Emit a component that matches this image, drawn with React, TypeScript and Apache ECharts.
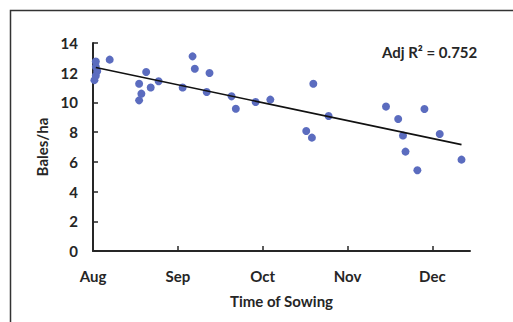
import React, { useEffect, useRef } from "react";
import * as echarts from "echarts";

// Days since 1 August
const sowingDays = [0.5, 1, 1.5, 1, 1, 5.9, 16.3, 17.1, 16.3, 18.8, 20.4, 23.2, 31.7, 35.2, 36.0, 41.2, 40.2, 49.0, 50.5, 57.5, 62.7, 75.4, 77.4, 77.9, 83.3, 103.6, 107.9, 109.6, 110.5, 114.7, 117.2, 122.6, 130.3];
const balesPerHa = [11.5, 11.8, 12.1, 12.4, 12.75, 12.88, 11.26, 10.59, 10.14, 12.05, 11.0, 11.42, 11.0, 13.1, 12.27, 11.98, 10.7, 10.41, 9.58, 10.03, 10.19, 8.08, 7.63, 11.26, 9.09, 9.72, 8.88, 7.77, 6.69, 5.43, 9.56, 7.87, 6.15];
const trendDays = [1, 130.3];
const trendValues = [12.35, 7.16];
const monthTicks = [0, 30, 60, 90, 120];
const monthLabels = ["Aug", "Sep", "Oct", "Nov", "Dec"];
const annotation = "Adj R\u00B2 = 0.752";

const FONT = "Lato, 'Open Sans', sans-serif";
const TXT = "#262626";

export default function App() {
  const ref = useRef<HTMLDivElement>(null);
  useEffect(() => {
    document.body.style.margin = "0";
    const chart = echarts.init(ref.current!, null, { renderer: "svg" });
    chart.setOption({
      animation: false,
      backgroundColor: "#ffffff",
      grid: { left: 93, right: 43, top: 43, bottom: 71 },
      xAxis: {
        type: "value",
        min: 0,
        max: 133.3,
        interval: 30,
        splitLine: { show: false },
        axisLine: { lineStyle: { color: TXT, width: 2 } },
        axisTick: { inside: true, length: 5, customValues: monthTicks.slice(1), lineStyle: { color: TXT, width: 1.5 } },
        axisLabel: {
          customValues: monthTicks,
          margin: 17,
          formatter: (v: number) => monthLabels[monthTicks.indexOf(Math.round(v))] ?? "",
          color: TXT,
          fontFamily: FONT,
          fontWeight: "bold",
          fontSize: 15,
        },
        name: "Time of Sowing",
        nameLocation: "middle",
        nameGap: 42,
        nameTextStyle: { color: TXT, fontFamily: FONT, fontWeight: "bold", fontSize: 15 },
      },
      yAxis: {
        type: "value",
        min: 0,
        max: 14,
        interval: 2,
        splitLine: { show: false },
        axisLine: { show: true, lineStyle: { color: TXT, width: 2 } },
        axisTick: { show: true, inside: true, length: 5, lineStyle: { color: TXT, width: 1.5 } },
        axisLabel: { margin: 15, color: TXT, fontFamily: FONT, fontWeight: "bold", fontSize: 15 },
        name: "Bales/ha",
        nameLocation: "middle",
        nameGap: 42,
        nameTextStyle: { color: TXT, fontFamily: FONT, fontWeight: "bold", fontSize: 15 },
      },
      graphic: [
        {
          type: "rect",
          shape: { x: 10.5, y: 10.5, width: 600, height: 400 },
          style: { fill: "none", stroke: "#333333", lineWidth: 1.5 },
          silent: true,
        },
        {
          type: "text",
          left: 382,
          top: 44,
          style: { text: annotation, fill: TXT, font: `bold 15px ${FONT}` },
        },
      ],
      series: [
        {
          type: "scatter",
          clip: false,
          symbolSize: 8,
          itemStyle: { color: "#5b6cbf", opacity: 1 },
          data: sowingDays.map((d, i) => [d, balesPerHa[i]]),
          z: 2,
        },
        {
          type: "line",
          symbol: "none",
          clip: false,
          lineStyle: { color: "#111111", width: 1.6 },
          data: trendDays.map((d, i) => [d, trendValues[i]]),
          z: 3,
        },
      ],
    });
    return () => chart.dispose();
  }, []);
  return <div ref={ref} style={{ width: 513, height: 322 }} />;
}
